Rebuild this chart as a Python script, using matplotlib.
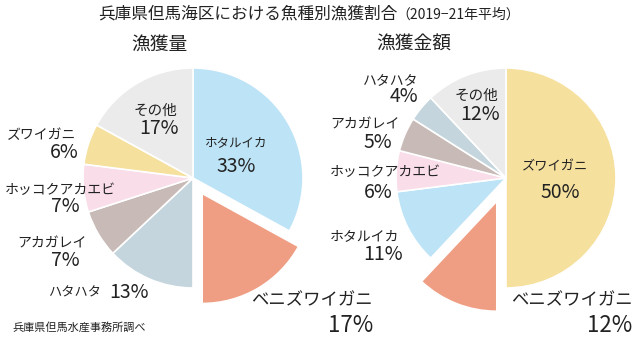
import numpy as np
import matplotlib
matplotlib.use("Agg")
import matplotlib.pyplot as plt

plt.rcParams["font.family"] = ["Noto Sans CJK JP", "DejaVu Sans"]

# ── DATA ───────────────────────────────────────────────────
species_qty   = ["ホタルイカ", "ベニズワイガニ", "ハタハタ", "アカガレイ",
                 "ホッコクアカエビ", "ズワイガニ", "その他"]
share_qty     = [33, 17, 13, 7, 7, 6, 17]

species_value = ["ズワイガニ", "ベニズワイガニ", "ホタルイカ", "ホッコクアカエビ",
                 "アカガレイ", "ハタハタ", "その他"]
share_value   = [50, 12, 11, 6, 5, 4, 12]

title    = "兵庫県但馬海区における魚種別漁獲割合"
subtitle = "（2019−21年平均）"
source   = "兵庫県但馬水産事務所調べ"

# ── PALETTE ────────────────────────────────────────────────
COLORS = {
    "ホタルイカ":       "#BDE3F6",
    "ベニズワイガニ":   "#EF9E83",
    "ハタハタ":         "#C4D5DD",
    "アカガレイ":       "#C8BAB6",
    "ホッコクアカエビ": "#F9DDE8",
    "ズワイガニ":       "#F6E09E",
    "その他":           "#EBEBEB",
}
TEXT = "#222222"

W, H = 639, 337
fig = plt.figure(figsize=(W / 100, H / 100), dpi=100)
ax = fig.add_axes([0, 0, 1, 1])


def img(x, y):
    # image pixel coords (y down) -> axes data coords (y up)
    return x, H - y


def draw_pie(names, values, center, explode_px):
    # explode is in data units (pixels here), not a fraction of the radius
    explode = [explode_px if n == "ベニズワイガニ" else 0 for n in names]
    ax.pie(values, colors=[COLORS[n] for n in names], startangle=90,
           counterclock=False, center=img(*center), radius=110,
           explode=explode, frame=True,
           wedgeprops=dict(edgecolor="white", linewidth=1.2))


draw_pie(species_qty, share_qty, (193, 178), 18)
draw_pie(species_value, share_value, (506, 178), 25)
ax.set_xlim(0, W)
ax.set_ylim(0, H)
ax.set_aspect("equal")
ax.axis("off")

# ── LABELS (name pos, pct pos, name size, pct size, align) ─
label_layout_qty = {
    "ホタルイカ":       ((236, 143), (236, 166), 9, 14, "center"),
    "ベニズワイガニ":   ((373, 300), (373, 325), 12.5, 16, "right"),
    "ハタハタ":         ((75, 293), (129, 293), 9.5, 14, "center"),
    "アカガレイ":       ((52, 244), (65, 260), 10, 14, "center"),
    "ホッコクアカエビ": ((60, 190), (65, 206), 10, 14, "center"),
    "ズワイガニ":       ((42, 135), (64, 153), 10, 14, "center"),
    "その他":           ((155, 111), (159, 129), 10.5, 14, "center"),
}
label_layout_value = {
    "ズワイガニ":       ((555, 167), (560, 192), 9.5, 14, "center"),
    "ベニズワイガニ":   ((633, 300), (632, 325), 12.5, 16, "right"),
    "ホタルイカ":       ((365, 236), (383, 255), 10, 14, "center"),
    "ホッコクアカエビ": ((385, 172), (378, 193), 10, 14, "center"),
    "アカガレイ":       ((365, 125), (378, 143), 10, 14, "center"),
    "ハタハタ":         ((391, 81), (404, 97), 10, 14, "center"),
    "その他":           ((476, 96), (480, 114), 10.5, 14, "center"),
}


def draw_labels(names, values, layout):
    for n, v in zip(names, values):
        name_xy, pct_xy, fs_name, fs_pct, ha = layout[n]
        ax.text(*img(*name_xy), n, fontsize=fs_name, ha=ha, va="center",
                color=TEXT)
        ax.text(*img(*pct_xy), f"{v}%", fontsize=fs_pct, ha=ha, va="center",
                color=TEXT)


draw_labels(species_qty, share_qty, label_layout_qty)
draw_labels(species_value, share_value, label_layout_value)

# ── TITLES ─────────────────────────────────────────────────
ax.text(*img(397, 14), title, fontsize=12, ha="right", va="center", color=TEXT)
ax.text(*img(396, 15), subtitle, fontsize=10, ha="left", va="center", color=TEXT)
ax.text(*img(159, 44), "漁獲量", fontsize=13.5, ha="center", va="center", color=TEXT)
ax.text(*img(414, 44), "漁獲金額", fontsize=13.5, ha="center", va="center", color=TEXT)
ax.text(*img(12, 327), source, fontsize=8, ha="left", va="center", color=TEXT)

fig.savefig("out.png", dpi=100, facecolor="white")
